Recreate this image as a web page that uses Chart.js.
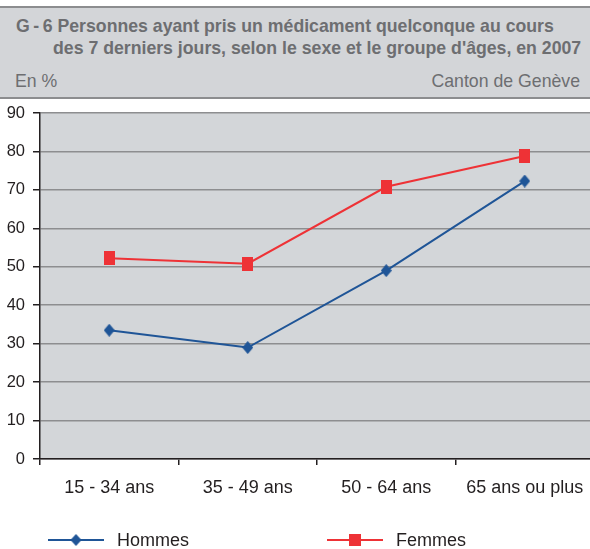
<!DOCTYPE html>
<html>
<head>
<meta charset="utf-8">
<script src="https://cdn.jsdelivr.net/npm/chart.js@4"></script>
<style>
  body { margin: 0; background: #fff; overflow: hidden; font-family: "Liberation Sans", Arial, sans-serif; }
  #wrap { position: relative; width: 590px; height: 549px; overflow: hidden; }
  #head {
    position: absolute; left: 0; top: 6px; width: 590px; height: 89px;
    background: #d3d5d8; border-top: 2px solid #8c8d8f; border-bottom: 2px solid #8c8d8f;
    color: #6d6e71;
  }
  .t { position: absolute; font-size: 17.7px; line-height: 1; white-space: nowrap; }
  .b { font-weight: bold; }
</style>
</head>
<body>
<div id="wrap">
  <canvas id="chart" width="600" height="549"></canvas>
  <div id="head">
    <div class="t b" style="left:16px; top:10px;">G&thinsp;-&thinsp;6 Personnes ayant pris un médicament quelconque au cours</div>
    <div class="t b" style="left:53px; top:32px;">des 7 derniers jours, selon le sexe et le groupe d'âges, en 2007</div>
    <div class="t" style="left:15px; top:65px;">En %</div>
    <div class="t" style="right:10px; top:65px;">Canton de Genève</div>
  </div>
</div>
<script>
// données
const categories = ['15 - 34 ans', '35 - 49 ans', '50 - 64 ans', '65 ans ou plus'];
const hommes = [33.5, 29.0, 49.0, 72.3];
const femmes = [52.2, 50.8, 70.8, 78.8];
const yTicks = [0, 10, 20, 30, 40, 50, 60, 70, 80, 90];

const BLUE = '#1f5597';
const RED = '#ee3236';
const TEXT = '#231f20';
const FONT = '"Liberation Sans", Arial, sans-serif';

// marqueurs un peu plus hauts que larges, comme dans l'original
function marker(kind, w, h, color) {
    const c = document.createElement('canvas');
    c.width = w; c.height = h;
    const g = c.getContext('2d');
    g.fillStyle = color;
    if (kind === 'diamond') {
        g.beginPath();
        g.moveTo(w / 2, 0); g.lineTo(w, h / 2);
        g.lineTo(w / 2, h); g.lineTo(0, h / 2);
        g.closePath(); g.fill();
    } else {
        g.fillRect(0, 0, w, h);
    }
    return c;
}

const plotBg = {
    id: 'plotBg',
    beforeDraw(chart) {
        const a = chart.chartArea, ctx = chart.ctx;
        ctx.save();
        ctx.fillStyle = '#d3d6d9';
        ctx.fillRect(a.left, a.top, a.right - a.left, a.bottom - a.top);
        ctx.restore();
    }
};

const legendLine = {
    id: 'legendLine',
    afterDraw(chart) {
        const ctx = chart.ctx;
        const items = [
            { ds: chart.data.datasets[0], x: 48, m: marker('diamond', 11, 12, BLUE) },
            { ds: chart.data.datasets[1], x: 327, m: marker('rect', 12, 12, RED) }
        ];
        const y = 540;
        items.forEach(it => {
            ctx.save();
            ctx.strokeStyle = it.ds.borderColor;
            ctx.lineWidth = 2;
            ctx.beginPath();
            ctx.moveTo(it.x, y);
            ctx.lineTo(it.x + 56, y);
            ctx.stroke();
            ctx.drawImage(it.m, it.x + 28 - it.m.width / 2, y - it.m.height / 2);
            ctx.fillStyle = TEXT;
            ctx.font = '18px ' + FONT;
            ctx.textBaseline = 'middle';
            ctx.fillText(it.ds.label, it.x + 69, y + 1);
            ctx.restore();
        });
    }
};

new Chart(document.getElementById('chart'), {
    type: 'line',
    data: {
        labels: categories,
        datasets: [
            {
                label: 'Hommes', data: hommes,
                borderColor: BLUE, backgroundColor: BLUE, borderWidth: 2,
                pointStyle: marker('diamond', 11, 13, BLUE), tension: 0
            },
            {
                label: 'Femmes', data: femmes,
                borderColor: RED, backgroundColor: RED, borderWidth: 2,
                pointStyle: marker('rect', 11, 14, RED), tension: 0
            }
        ]
    },
    options: {
        responsive: false,
        animation: false,
        layout: { padding: { top: 113, right: 4, left: 0, bottom: 0 } },
        plugins: { legend: { display: false }, tooltip: { enabled: false } },
        scales: {
            x: {
                offset: true,
                afterFit(s) { s.height = 90; },
                grid: { offset: true, drawOnChartArea: false, tickLength: 6, color: TEXT, lineWidth: 1.5 },
                border: { color: TEXT, width: 1.5 },
                ticks: { color: TEXT, padding: 12, font: { size: 18, family: FONT } }
            },
            y: {
                min: 0, max: 90,
                afterFit(s) { s.width = 40; },
                afterBuildTicks(s) { s.ticks = yTicks.map(v => ({ value: v })); },
                grid: { color: '#8d8e90', lineWidth: 1.5, tickLength: 7, tickColor: TEXT },
                border: { color: TEXT, width: 1.5 },
                ticks: { color: TEXT, padding: 8, font: { size: 16.5, family: FONT } }
            }
        }
    },
    plugins: [plotBg, legendLine]
});
</script>
</body>
</html>
